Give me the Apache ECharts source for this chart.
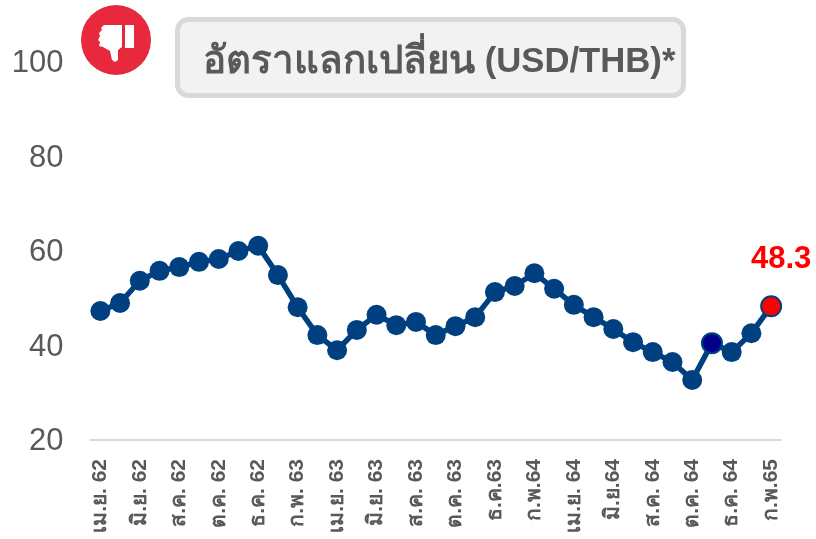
<!DOCTYPE html>
<html>
<head>
<meta charset="utf-8">
<style>
    html, body { margin: 0; padding: 0; background: #fff; overflow: hidden; }
    #main { width: 816px; height: 539px; }
</style>
<script src="https://cdn.jsdelivr.net/npm/echarts@6/dist/echarts.min.js"></script>
</head>
<body>
<div id="main"></div>
<script>
    const months = [
        'เม.ย. 62', 'พ.ค. 62', 'มิ.ย. 62', 'ก.ค. 62', 'ส.ค. 62', 'ก.ย. 62', 'ต.ค. 62', 'พ.ย. 62', 'ธ.ค. 62',
        'ม.ค. 63', 'ก.พ. 63', 'มี.ค. 63', 'เม.ย. 63', 'พ.ค. 63', 'มิ.ย. 63', 'ก.ค. 63', 'ส.ค. 63', 'ก.ย. 63',
        'ต.ค. 63', 'พ.ย. 63', 'ธ.ค.63', 'ม.ค. 64', 'ก.พ.64', 'มี.ค. 64', 'เม.ย. 64', 'พ.ค. 64', 'มิ.ย.64',
        'ก.ค. 64', 'ส.ค. 64', 'ก.ย. 64', 'ต.ค. 64', 'พ.ย. 64', 'ธ.ค. 64', 'ม.ค. 65', 'ก.พ.65'
    ];
    const exchangeIndex = [
        47.3, 49.0, 53.7, 55.8, 56.6, 57.7, 58.3, 60.0, 61.1,
        54.9, 48.1, 42.2, 39.0, 43.3, 46.5, 44.3, 45.0, 42.2,
        44.1, 46.0, 51.3, 52.6, 55.3, 52.0, 48.6, 46.0, 43.5,
        40.7, 38.6, 36.5, 32.7, 40.5, 38.6, 42.6, 48.3
    ];
    const yTicks = [20, 40, 60, 80, 100];
    const titleThai = 'อัตราแลกเปลี่ยน';
    const titleLatin = ' (USD/THB)*';
    const navyIndex = 31;
    const lastIndex = exchangeIndex.length - 1;

    const FONT = '"Liberation Sans", Arial, sans-serif';
    const LINE = '#004080';

    const seriesData = exchangeIndex.map((v, i) => {
        if (i === navyIndex) {
            return { value: v, itemStyle: { color: '#00008b', borderColor: LINE, borderWidth: 2 } };
        }
        if (i === lastIndex) {
            return {
                value: v,
                itemStyle: { color: '#ff0000', borderColor: LINE, borderWidth: 2 },
                label: {
                    show: true,
                    position: 'top',
                    offset: [10, -15],
                    formatter: '{c}',
                    color: '#ff0000',
                    fontFamily: FONT,
                    fontWeight: 'bold',
                    fontSize: 31
                }
            };
        }
        return v;
    });

    const myChart = echarts.init(document.getElementById('main'), null, { renderer: 'canvas' });
    myChart.setOption({
        animation: false,
        grid: { left: 90.5, right: 35, top: 62, bottom: 99, outerBoundsMode: 'none' },
        xAxis: {
            type: 'category',
            data: months,
            boundaryGap: true,
            axisLine: { lineStyle: { color: '#d9d9d9', width: 2 } },
            axisTick: { show: false },
            axisLabel: {
                interval: 1,
                rotate: 90,
                margin: 19,
                color: '#595959',
                fontFamily: FONT,
                fontWeight: 'bold',
                fontSize: 21
            }
        },
        yAxis: {
            type: 'value',
            min: yTicks[0],
            max: yTicks[yTicks.length - 1],
            interval: 20,
            splitLine: { show: false },
            axisLine: { show: false },
            axisTick: { show: false },
            axisLabel: {
                margin: 27,
                verticalAlign: 'top',
                lineHeight: 3,
                color: '#595959',
                fontFamily: FONT,
                fontSize: 31
            }
        },
        series: [{
            type: 'line',
            data: seriesData,
            symbol: 'circle',
            symbolSize: 20,
            showAllSymbol: true,
            lineStyle: { color: LINE, width: 5.5 },
            itemStyle: { color: LINE }
        }],
        graphic: [
            { type: 'rect', shape: { x: 177.5, y: 19.5, width: 506, height: 76, r: 11 },
              style: { fill: '#f2f2f2', stroke: '#d9d9d9', lineWidth: 5 } },
            { type: 'text', x: 203, y: 62,
              style: {
                  text: '{a|' + titleThai + '}{b|' + titleLatin + '}',
                  verticalAlign: 'middle',
                  rich: {
                      a: { fill: '#595959', font: 'bold 38.4px ' + FONT },
                      b: { fill: '#595959', font: 'bold 34.7px ' + FONT }
                  }
              } },
            { type: 'circle', shape: { cx: 116, cy: 40, r: 35 }, style: { fill: '#e8293d' } },
            // thumbs down icon
            { type: 'rect', shape: { x: 125, y: 25, width: 9, height: 23 }, style: { fill: '#fff' } },
            { type: 'polygon', shape: { points: [[104, 25], [122, 25], [122, 47], [118, 50], [118, 60], [115, 62], [112, 60], [110, 51], [103, 47], [99, 46], [100, 42], [98, 40], [100, 36], [99, 33], [102, 30], [101, 28]] },
              style: { fill: '#fff' } }
        ]
    });
</script>
</body>
</html>
